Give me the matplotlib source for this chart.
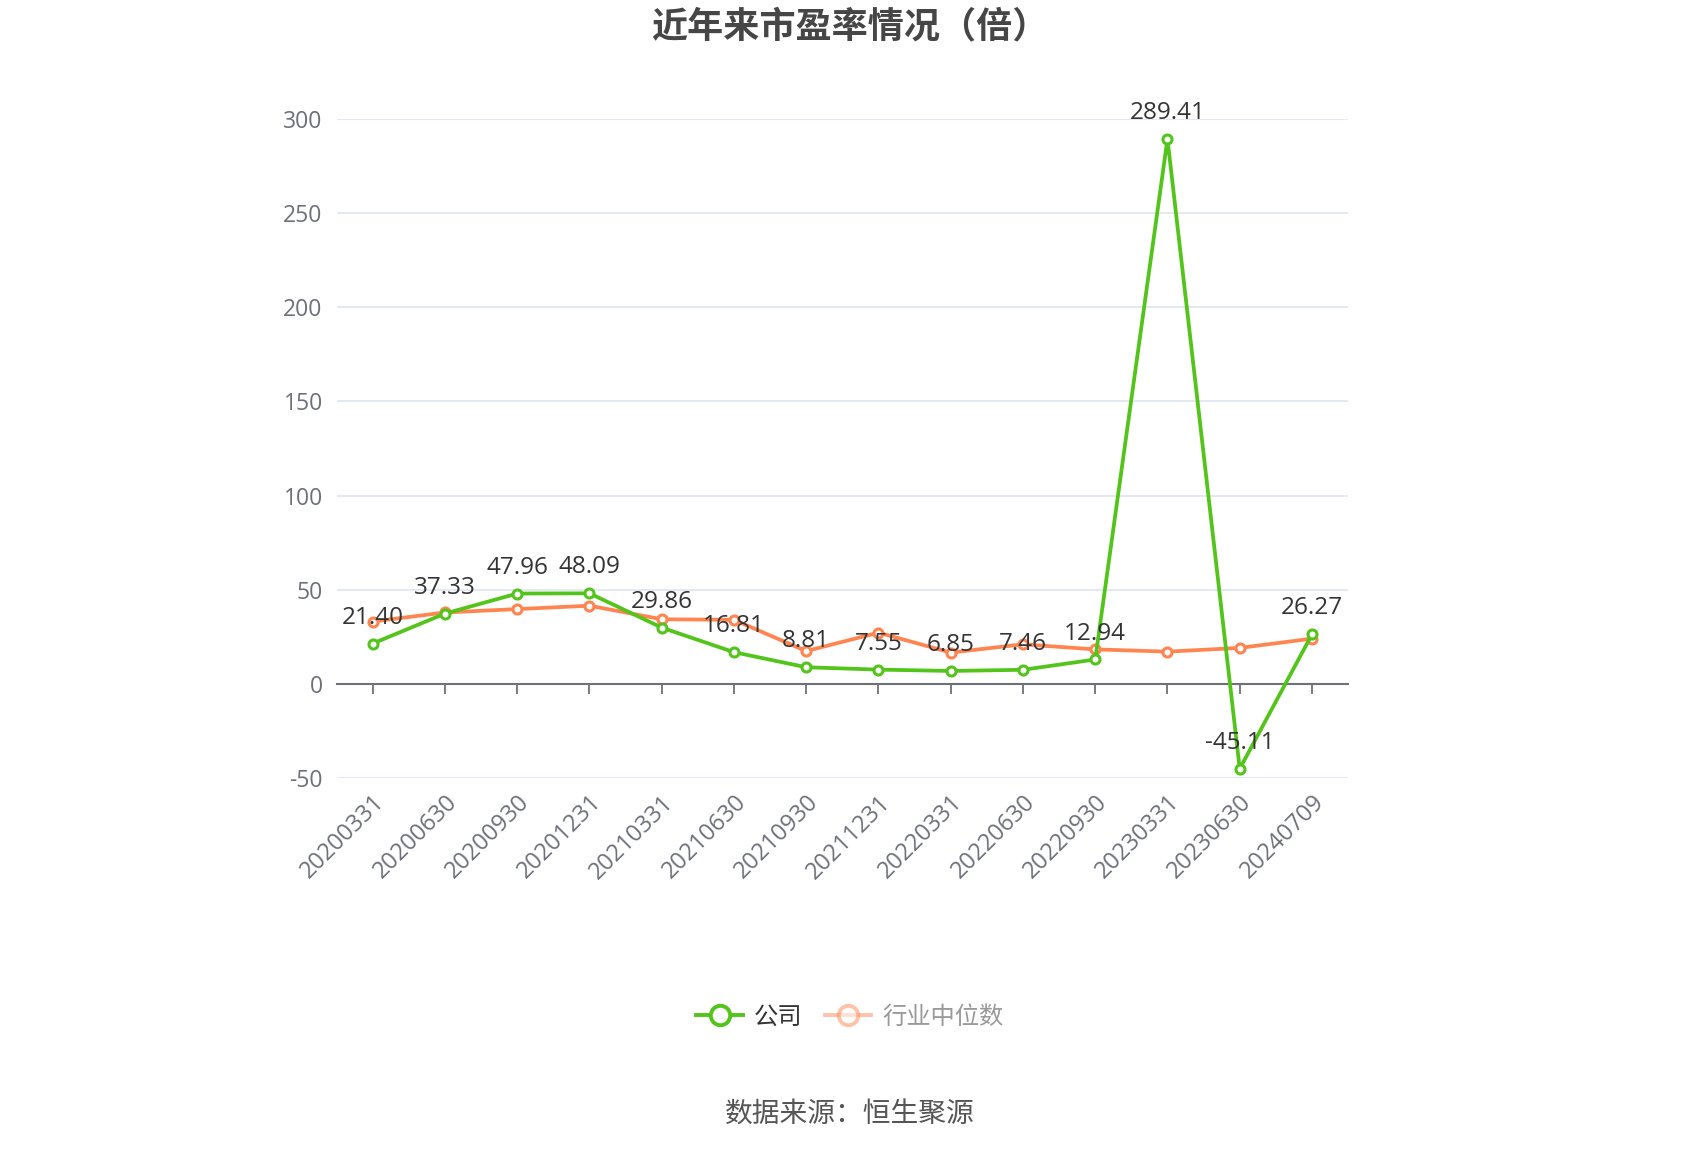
import numpy as np
import matplotlib
matplotlib.use('Agg')
import matplotlib.pyplot as plt
from matplotlib.lines import Line2D

plt.rcParams['font.family'] = ['Open Sans', 'Noto Sans CJK SC', 'DejaVu Sans']
plt.rcParams['axes.unicode_minus'] = False

# --- datos ---
dates = ['20200331', '20200630', '20200930', '20201231', '20210331', '20210630',
         '20210930', '20211231', '20220331', '20220630', '20220930', '20230331',
         '20230630', '20240709']
company_pe = [21.40, 37.33, 47.96, 48.09, 29.86, 16.81, 8.81, 7.55, 6.85, 7.46,
              12.94, 289.41, -45.11, 26.27]
industry_pe = [33.1, 37.9, 39.7, 41.5, 34.3, 34.0, 17.4, 27.2, 16.6, 21.0,
               18.3, 17.1, 19.1, 24.0]
y_ticks = [-50, 0, 50, 100, 150, 200, 250, 300]

GREEN = '#52c41a'
ORANGE = '#ff8450'
GRID = '#e0e6f1'
AXIS = '#6e7079'

fig = plt.figure(figsize=(17, 11.5), dpi=100)
ax = fig.add_axes([0.198, 0.3235, 0.595, 0.573])

x = np.arange(len(dates))
ax.plot(x, industry_pe, '-o', color=ORANGE, lw=2.7, ms=6.5, mfc='white',
        mec=ORANGE, mew=2.2, zorder=3)
ax.plot(x, company_pe, '-o', color=GREEN, lw=2.7, ms=6.5, mfc='white',
        mec=GREEN, mew=2.2, zorder=4)

# etiquetas de valor
for xi, v in zip(x, company_pe):
    ax.annotate(f'{v:.2f}', (xi, v), xytext=(0, 10), textcoords='offset points',
                ha='center', va='bottom', fontsize=17.5, color='#333333', zorder=5)

ax.set_xlim(-0.5, len(dates) - 0.5)
ax.set_ylim(-50, 300)
ax.set_yticks(y_ticks)
ax.tick_params(axis='y', length=0, labelsize=16.5, labelcolor=AXIS, pad=10)

# eje x en el cero con marcas hacia abajo, sin etiquetas
ax.spines['bottom'].set_position(('data', 0))
ax.spines['bottom'].set_color(AXIS)
ax.spines['bottom'].set_linewidth(1.5)
ax.set_xticks(x)
ax.tick_params(axis='x', length=7, width=1.3, color=AXIS, labelbottom=False)

# etiquetas de fecha al pie del area
sec = ax.secondary_xaxis(0.0)
sec.set_xticks(x)
sec.set_xticklabels(dates, rotation=45, ha='right', va='top', rotation_mode='anchor')
sec.tick_params(axis='x', length=0, labelsize=17, labelcolor=AXIS, pad=9)
sec.spines['bottom'].set_visible(False)

ax.grid(axis='y', color=GRID, lw=1.3)
ax.set_axisbelow(True)
for s in ['top', 'right', 'left']:
    ax.spines[s].set_visible(False)

fig.text(0.5, 0.975, '近年来市盈率情况（倍）', ha='center', va='center',
         fontsize=26, fontweight='bold', color='#464646')

handles = [
    Line2D([0], [0], color=GREEN, lw=2.8, marker='o', ms=14, mfc='white', mec=GREEN, mew=2.8),
    Line2D([0], [0], color=ORANGE, lw=2.8, marker='o', ms=14, mfc='white', mec=ORANGE,
           mew=2.8, alpha=0.5),
]
leg = fig.legend(handles, ['公司', '行业中位数'], loc='center', bbox_to_anchor=(0.5, 0.115),
                 ncol=2, frameon=False, fontsize=17.5, handlelength=1.9, columnspacing=0.95,
                 handletextpad=0.45)
leg.get_texts()[0].set_color('#333333')
leg.get_texts()[1].set_color('#999999')

fig.text(0.5, 0.030, '数据来源：恒生聚源', ha='center', va='center', fontsize=20,
         color='#555555')

fig.savefig('out.png', dpi=100)
